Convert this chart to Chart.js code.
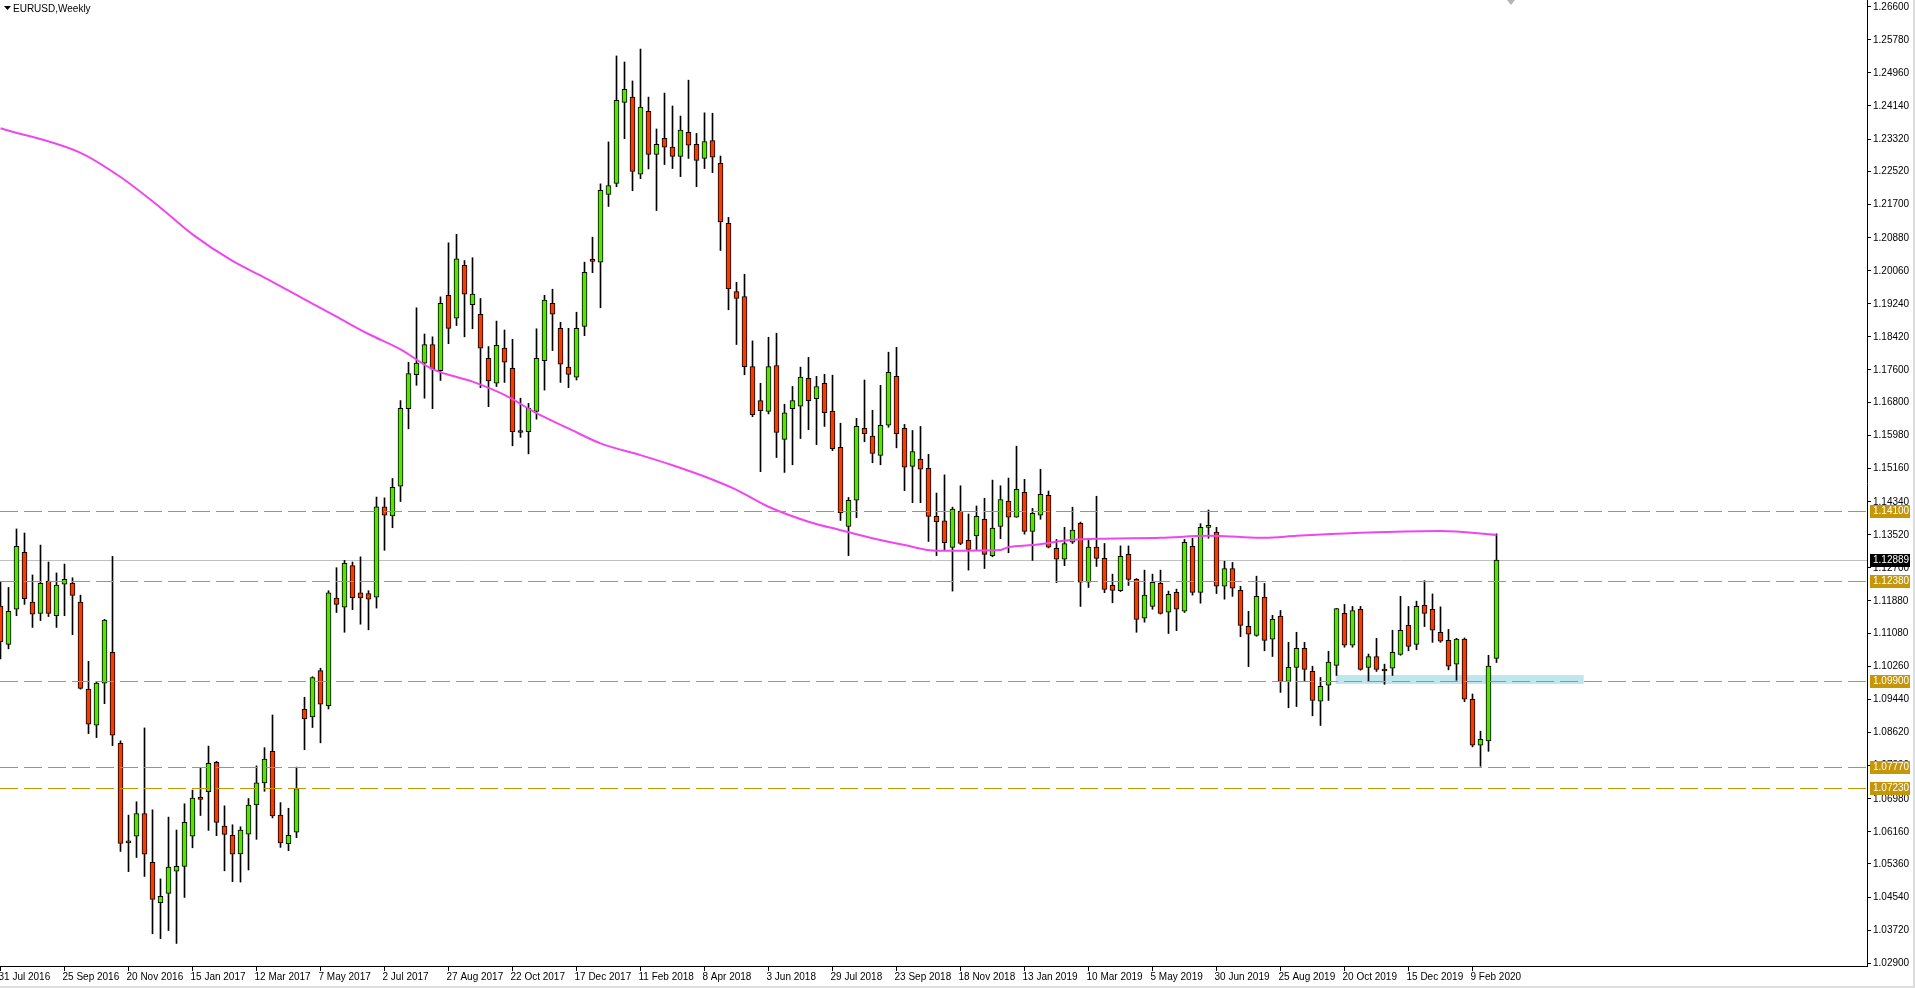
<!DOCTYPE html>
<html>
<head>
<meta charset="utf-8">
<title>EURUSD,Weekly</title>
<script src="https://cdn.jsdelivr.net/npm/chart.js@4.4.1/dist/chart.umd.min.js"></script>
<style>
  html, body { margin: 0; padding: 0; background: #fff; overflow: hidden; }
  canvas { display: block; }
</style>
</head>
<body>
<canvas id="chart" width="1915" height="988"></canvas>
<script>
// weekly candles, 31 Jul 2016 .. 1 Mar 2020
const opens = [
  1.1175, 1.1080, 1.1167, 1.1308, 1.1185, 1.1157, 1.1237, 1.1151, 1.1229, 1.1232,
  1.1185, 1.0969, 1.0880, 1.0984, 1.1060, 1.0835, 1.0591, 1.0605, 1.0661, 1.0540,
  1.0440, 1.0463, 1.0518, 1.0530, 1.0605, 1.0701, 1.0715, 1.0788, 1.0630, 1.0607,
  1.0561, 1.0610, 1.0682, 1.0737, 1.0815, 1.0657, 1.0586, 1.0615, 1.0919, 1.0900,
  1.1015, 1.0928, 1.1195, 1.1172, 1.1275, 1.1208, 1.1206, 1.1197, 1.1421, 1.1398,
  1.1472, 1.1664, 1.1748, 1.1777, 1.1823, 1.1758, 1.1945, 1.1888, 1.2019, 1.1922,
  1.1898, 1.1789, 1.1727, 1.1814, 1.1764, 1.1607, 1.1607, 1.1657, 1.1783, 1.1925,
  1.1863, 1.1767, 1.1742, 1.1868, 1.2031, 1.2027, 1.2195, 1.2222, 1.2423, 1.2436,
  1.2245, 1.2401, 1.2294, 1.2334, 1.2312, 1.2289, 1.2349, 1.2319, 1.2284, 1.2328,
  1.2272, 1.2123, 1.1954, 1.1942, 1.1768, 1.1684, 1.1657, 1.1771, 1.1588, 1.1664,
  1.1670, 1.1739, 1.1689, 1.1727, 1.1658, 1.1568, 1.1372, 1.1437, 1.1615, 1.1596,
  1.1548, 1.1623, 1.1744, 1.1615, 1.1521, 1.1539, 1.1516, 1.1397, 1.1386, 1.1320,
  1.1410, 1.1338, 1.1349, 1.1390, 1.1300, 1.1372, 1.1435, 1.1395, 1.1457, 1.1360,
  1.1400, 1.1449, 1.1318, 1.1291, 1.1333, 1.1380, 1.1234, 1.1321, 1.1293, 1.1226,
  1.1213, 1.1303, 1.1241, 1.1145, 1.1174, 1.1231, 1.1160, 1.1209, 1.1162, 1.1323,
  1.1209, 1.1370, 1.1358, 1.1224, 1.1268, 1.1214, 1.1125, 1.1102, 1.1197, 1.1093,
  1.1150, 1.0988, 1.1023, 1.1070, 1.1013, 1.0939, 1.0979, 1.1028, 1.1157, 1.1078,
  1.1167, 1.1023, 1.1050, 1.1016, 1.1021, 1.1055, 1.1127, 1.1080, 1.1177, 1.1167,
  1.1110, 1.1090, 1.1031, 1.1093, 1.0944, 1.0830, 1.0841, 1.1045
];
const highs = [
  1.1236, 1.1221, 1.1366, 1.1356, 1.1252, 1.1326, 1.1284, 1.1257, 1.1279, 1.1245,
  1.1202, 1.1038, 1.0988, 1.1142, 1.1298, 1.0841, 1.0657, 1.0690, 1.0873, 1.0670,
  1.0499, 1.0652, 1.0620, 1.0685, 1.0719, 1.0773, 1.0828, 1.0790, 1.0680, 1.0633,
  1.0628, 1.0698, 1.0779, 1.0824, 1.0905, 1.0688, 1.0674, 1.0776, 1.0949, 1.1000,
  1.1021, 1.1213, 1.1270, 1.1288, 1.1284, 1.1297, 1.1213, 1.1445, 1.1443, 1.1491,
  1.1684, 1.1779, 1.1914, 1.1849, 1.1842, 1.1941, 1.2075, 1.2096, 1.2031, 1.2038,
  1.1937, 1.1818, 1.1881, 1.1859, 1.1836, 1.1690, 1.1677, 1.1862, 1.1945, 1.1960,
  1.1878, 1.1863, 1.1903, 1.2027, 1.2089, 1.2221, 1.2325, 1.2538, 1.2523, 1.2476,
  1.2555, 1.2436, 1.2357, 1.2446, 1.2414, 1.2389, 1.2478, 1.2346, 1.2397, 1.2396,
  1.2290, 1.2138, 1.1977, 1.1997, 1.1832, 1.1727, 1.1841, 1.1851, 1.1675, 1.1719,
  1.1767, 1.1791, 1.1744, 1.1749, 1.1747, 1.1628, 1.1444, 1.1640, 1.1735, 1.1660,
  1.1722, 1.1804, 1.1816, 1.1625, 1.1610, 1.1620, 1.1551, 1.1455, 1.1500, 1.1420,
  1.1473, 1.1403, 1.1423, 1.1442, 1.1487, 1.1473, 1.1492, 1.1571, 1.1489, 1.1417,
  1.1514, 1.1460, 1.1340, 1.1370, 1.1420, 1.1383, 1.1343, 1.1447, 1.1330, 1.1254,
  1.1324, 1.1324, 1.1243, 1.1264, 1.1254, 1.1264, 1.1212, 1.1217, 1.1340, 1.1343,
  1.1379, 1.1413, 1.1370, 1.1286, 1.1283, 1.1224, 1.1162, 1.1249, 1.1231, 1.1152,
  1.1164, 1.1085, 1.1110, 1.1085, 1.1026, 1.0998, 1.1063, 1.1169, 1.1179, 1.1174,
  1.1174, 1.1056, 1.1095, 1.1031, 1.1115, 1.1199, 1.1174, 1.1187, 1.1238, 1.1205,
  1.1173, 1.1117, 1.1095, 1.1096, 1.0957, 1.0865, 1.1053, 1.1354
];
const lows = [
  1.1044, 1.1069, 1.1151, 1.1179, 1.1122, 1.1139, 1.1149, 1.1122, 1.1151, 1.1104,
  1.0969, 1.0859, 1.0849, 1.0933, 1.0829, 1.0567, 1.0517, 1.0552, 1.0505, 1.0363,
  1.0351, 1.0371, 1.0339, 1.0453, 1.0576, 1.0656, 1.0619, 1.0606, 1.0519, 1.0492,
  1.0491, 1.0521, 1.0597, 1.0716, 1.0650, 1.0577, 1.0569, 1.0601, 1.0819, 1.0874,
  1.0836, 1.0920, 1.1159, 1.1110, 1.1166, 1.1130, 1.1116, 1.1170, 1.1313, 1.1369,
  1.1434, 1.1614, 1.1722, 1.1690, 1.1664, 1.1734, 1.1825, 1.1870, 1.1842, 1.1862,
  1.1716, 1.1669, 1.1719, 1.1729, 1.1572, 1.1593, 1.1552, 1.1638, 1.1710, 1.1808,
  1.1729, 1.1716, 1.1735, 1.1845, 1.2001, 1.1914, 1.2165, 1.2214, 1.2333, 1.2204,
  1.2234, 1.2258, 1.2155, 1.2269, 1.2259, 1.2239, 1.2284, 1.2214, 1.2259, 1.2249,
  1.2056, 1.1909, 1.1823, 1.1748, 1.1644, 1.1508, 1.1651, 1.1543, 1.1506, 1.1525,
  1.1590, 1.1612, 1.1575, 1.1620, 1.1560, 1.1387, 1.1300, 1.1394, 1.1582, 1.1530,
  1.1525, 1.1618, 1.1567, 1.1461, 1.1431, 1.1431, 1.1335, 1.1300, 1.1314, 1.1212,
  1.1327, 1.1264, 1.1315, 1.1268, 1.1297, 1.1342, 1.1307, 1.1395, 1.1353, 1.1288,
  1.1390, 1.1319, 1.1233, 1.1275, 1.1330, 1.1174, 1.1221, 1.1273, 1.1208, 1.1183,
  1.1211, 1.1226, 1.1110, 1.1135, 1.1167, 1.1155, 1.1107, 1.1114, 1.1159, 1.1202,
  1.1182, 1.1343, 1.1206, 1.1192, 1.1199, 1.1099, 1.1025, 1.1100, 1.1064, 1.1050,
  1.0961, 1.0923, 1.0926, 1.0988, 1.0903, 1.0879, 1.0941, 1.1003, 1.1073, 1.1073,
  1.1016, 1.0988, 1.1013, 1.0981, 1.1003, 1.1053, 1.1064, 1.1067, 1.1124, 1.1085,
  1.1085, 1.1017, 1.0991, 1.0938, 1.0826, 1.0778, 1.0815, 1.1035
];
const closes = [
  1.1087, 1.1162, 1.1323, 1.1193, 1.1155, 1.1231, 1.1157, 1.1227, 1.1241, 1.1201,
  1.0971, 1.0882, 1.0984, 1.1140, 1.0855, 1.0587, 1.0588, 1.0661, 1.0560, 1.0448,
  1.0456, 1.0528, 1.0530, 1.0639, 1.0699, 1.0696, 1.0785, 1.0639, 1.0609, 1.0560,
  1.0620, 1.0682, 1.0737, 1.0796, 1.0655, 1.0588, 1.0607, 1.0723, 1.0895, 1.0998,
  1.0932, 1.1208, 1.1179, 1.1281, 1.1196, 1.1195, 1.1192, 1.1421, 1.1400, 1.1469,
  1.1665, 1.1751, 1.1777, 1.1823, 1.1762, 1.1925, 1.1863, 1.2035, 1.1948, 1.1948,
  1.1814, 1.1733, 1.1821, 1.1779, 1.1607, 1.1605, 1.1665, 1.1789, 1.1933, 1.1898,
  1.1774, 1.1749, 1.1863, 1.2002, 1.2029, 1.2205, 1.2217, 1.2428, 1.2455, 1.2252,
  1.2411, 1.2294, 1.2319, 1.2312, 1.2289, 1.2354, 1.2317, 1.2279, 1.2326, 1.2287,
  1.2127, 1.1961, 1.1937, 1.1768, 1.1649, 1.1659, 1.1768, 1.1605, 1.1654, 1.1684,
  1.1742, 1.1684, 1.1719, 1.1654, 1.1565, 1.1406, 1.1437, 1.1620, 1.1602, 1.1553,
  1.1623, 1.1754, 1.1602, 1.1519, 1.1558, 1.1514, 1.1397, 1.1384, 1.1332, 1.1415,
  1.1330, 1.1315, 1.1397, 1.1303, 1.1368, 1.1439, 1.1395, 1.1464, 1.1360, 1.1405,
  1.1452, 1.1321, 1.1291, 1.1330, 1.1363, 1.1234, 1.1321, 1.1293, 1.1216, 1.1214,
  1.1298, 1.1241, 1.1142, 1.1202, 1.1234, 1.1157, 1.1204, 1.1167, 1.1333, 1.1209,
  1.1370, 1.1372, 1.1224, 1.1268, 1.1219, 1.1127, 1.1105, 1.1199, 1.1090, 1.1142,
  1.0988, 1.1023, 1.1070, 1.1018, 1.0941, 1.0976, 1.1036, 1.1169, 1.1078, 1.1164,
  1.1018, 1.1050, 1.1018, 1.1014, 1.1060, 1.1115, 1.1075, 1.1174, 1.1157, 1.1115,
  1.1088, 1.1026, 1.1093, 1.0944, 1.0830, 1.0845, 1.1026, 1.1289
];

// moving average at these bars
const maBars = [0, 10, 15, 20, 24, 29, 33, 38, 42, 46, 50, 54, 59, 63, 67, 71, 75, 80, 84, 88,
  92, 96, 101, 105, 109, 113, 117, 125, 126, 129, 134, 138, 145, 151, 154, 158, 162, 167, 172, 180, 187];
const maValues = [1.2359, 1.2298, 1.2238, 1.2162, 1.2096, 1.2030, 1.1989, 1.1935, 1.1892, 1.1849,
  1.1811, 1.1762, 1.1731, 1.1698, 1.1653, 1.1615, 1.1578, 1.1549, 1.1524, 1.1496,
  1.1463, 1.1421, 1.1384, 1.1363, 1.1343, 1.1326, 1.1312, 1.1314, 1.1321, 1.1326,
  1.1339, 1.1342, 1.1344, 1.1349, 1.1347, 1.1344, 1.1349, 1.1354, 1.1358, 1.1361, 1.1351];

const xTickBars = [0, 8, 16, 24, 32, 40, 48, 56, 64, 72, 80, 88, 96, 104, 112, 120,
  128, 136, 144, 152, 160, 168, 176, 184];
const xTickLabels = ['31 Jul 2016', '25 Sep 2016', '20 Nov 2016', '15 Jan 2017', '12 Mar 2017',
  '7 May 2017', '2 Jul 2017', '27 Aug 2017', '22 Oct 2017', '17 Dec 2017', '11 Feb 2018',
  '8 Apr 2018', '3 Jun 2018', '29 Jul 2018', '23 Sep 2018', '18 Nov 2018', '13 Jan 2019',
  '10 Mar 2019', '5 May 2019', '30 Jun 2019', '25 Aug 2019', '20 Oct 2019', '15 Dec 2019',
  '9 Feb 2020'];
const yTickLabels = [1.26600, 1.25780, 1.24960, 1.24140, 1.23320, 1.22520, 1.21700, 1.20880,
  1.20060, 1.19240, 1.18420, 1.17600, 1.16800, 1.15980, 1.15160, 1.14340, 1.13520, 1.12700,
  1.11880, 1.11080, 1.10260, 1.09440, 1.08620, 1.07800, 1.06980, 1.06160, 1.05360, 1.04540,
  1.03720, 1.02900];

const levels = [1.14100, 1.12380, 1.09900, 1.07770, 1.07230];
const bidPrice = 1.12889;
const zone = { from: 166.9, to: 197.9, low: 1.0982, high: 1.1004 };

const UP = '#52e600';
const DOWN = '#f83b00';
const MA_COLOR = '#f046f0';
const GOLD = '#c49608';
const FONT = '10px "Liberation Sans", Arial, sans-serif';

const bodies = opens.map((o, i) => ({ x: i, y: [o, closes[i]] }));
const wicks = opens.map((o, i) => ({ x: i, y: [lows[i], highs[i]] }));
const maLine = maBars.map((b, k) => ({ x: b, y: maValues[k] }));
const candleColor = (ctx) => closes[ctx.dataIndex] >= opens[ctx.dataIndex] ? UP : DOWN;

const overlay = {
  id: 'overlay',
  beforeDatasetsDraw(chart) {
    const { ctx, chartArea: a, scales: { x, y } } = chart;
    ctx.save();
    ctx.fillStyle = '#bee6ec';
    const x0 = x.getPixelForValue(zone.from);
    const x1 = x.getPixelForValue(zone.to);
    const y0 = y.getPixelForValue(zone.high);
    const y1 = y.getPixelForValue(zone.low);
    ctx.fillRect(x0, y0, x1 - x0, y1 - y0);

    const yb = Math.round(y.getPixelForValue(bidPrice)) + 0.5;
    ctx.strokeStyle = '#c0c0c0';
    ctx.lineWidth = 1;
    ctx.beginPath();
    ctx.moveTo(a.left, yb);
    ctx.lineTo(a.right, yb);
    ctx.stroke();
    ctx.restore();
  },
  afterDatasetsDraw(chart) {
    const { ctx, chartArea: a, scales: { y } } = chart;
    ctx.save();
    ctx.strokeStyle = GOLD;
    ctx.lineWidth = 1;
    ctx.setLineDash([18, 6]);
    levels.forEach((lv) => {
      const py = Math.round(y.getPixelForValue(lv)) + 0.5;
      ctx.beginPath();
      ctx.moveTo(a.left, py);
      ctx.lineTo(a.right - 1, py);
      ctx.stroke();
    });
    ctx.restore();
  },
  afterDraw(chart) {
    const { ctx, chartArea: a, scales: { y } } = chart;
    ctx.save();
    ctx.font = FONT;
    ctx.textBaseline = 'middle';
    ctx.textAlign = 'left';

    // price scale
    ctx.fillStyle = '#000';
    yTickLabels.forEach((v) => {
      ctx.fillText(v.toFixed(5), a.right + 6, Math.round(y.getPixelForValue(v)));
    });

    // price tags
    const tag = (v, bg) => {
      const py = Math.round(y.getPixelForValue(v));
      ctx.fillStyle = bg;
      ctx.fillRect(a.right + 3, py - 6, 40, 13);
      ctx.fillStyle = '#fff';
      ctx.fillText(v.toFixed(5), a.right + 6, py + 0.5);
    };
    levels.forEach((lv) => tag(lv, GOLD));
    tag(bidPrice, '#000');

    // title
    ctx.fillStyle = '#000';
    ctx.beginPath();
    ctx.moveTo(4, 6);
    ctx.lineTo(11, 6);
    ctx.lineTo(7.5, 10);
    ctx.closePath();
    ctx.fill();
    ctx.fillText('EURUSD,Weekly', 13, 9);

    // chart shift marker
    ctx.fillStyle = '#b4b4b4';
    ctx.beginPath();
    ctx.moveTo(1507, 0);
    ctx.lineTo(1515, 0);
    ctx.lineTo(1511, 5);
    ctx.closePath();
    ctx.fill();

    // window edges
    ctx.fillStyle = '#dcdcdc';
    ctx.fillRect(0, 986, 1915, 2);
    ctx.fillRect(1913, 0, 2, 988);
    ctx.restore();
  }
};

new Chart(document.getElementById('chart'), {
  type: 'bar',
  data: {
    datasets: [
      {
        type: 'line',
        data: maLine,
        borderColor: MA_COLOR,
        borderWidth: 2,
        pointRadius: 0,
        cubicInterpolationMode: 'monotone',
        order: 0
      },
      {
        data: bodies,
        backgroundColor: candleColor,
        borderColor: '#000',
        borderWidth: 1,
        borderSkipped: false,
        barThickness: 5,
        maxBarThickness: 5,
        minBarLength: 2,
        grouped: false,
        order: 1
      },
      {
        data: wicks,
        backgroundColor: '#000',
        borderWidth: 0,
        barThickness: 1,
        maxBarThickness: 1,
        grouped: false,
        order: 2
      }
    ]
  },
  options: {
    responsive: false,
    animation: false,
    devicePixelRatio: 1,
    layout: { padding: 0 },
    plugins: {
      legend: { display: false },
      tooltip: { enabled: false }
    },
    scales: {
      x: {
        type: 'linear',
        min: -0.0625,
        max: 233.3125,
        offset: false,
        grid: { drawOnChartArea: false, drawTicks: true, tickLength: 5, color: '#000', offset: false },
        border: { display: true, color: '#000' },
        ticks: {
          autoSkip: false,
          maxRotation: 0,
          minRotation: 0,
          align: 'start',
          padding: 0,
          labelOffset: -2,
          color: '#000',
          font: { family: '"Liberation Sans", Arial, sans-serif', size: 10 },
          callback: (v) => {
            const k = xTickBars.indexOf(v);
            return k >= 0 ? xTickLabels[k] : '';
          }
        },
        afterBuildTicks: (s) => { s.ticks = xTickBars.map((v) => ({ value: v })); },
        afterFit: (s) => { s.height = 22; }
      },
      y: {
        position: 'right',
        min: 1.02831,
        max: 1.26766,
        grid: { drawOnChartArea: false, drawTicks: true, tickLength: 4, color: '#000' },
        border: { display: true, color: '#000' },
        ticks: { display: false },
        afterBuildTicks: (s) => { s.ticks = yTickLabels.map((v) => ({ value: v })); },
        afterFit: (s) => { s.width = 48; }
      }
    }
  },
  plugins: [overlay]
});
</script>
</body>
</html>
